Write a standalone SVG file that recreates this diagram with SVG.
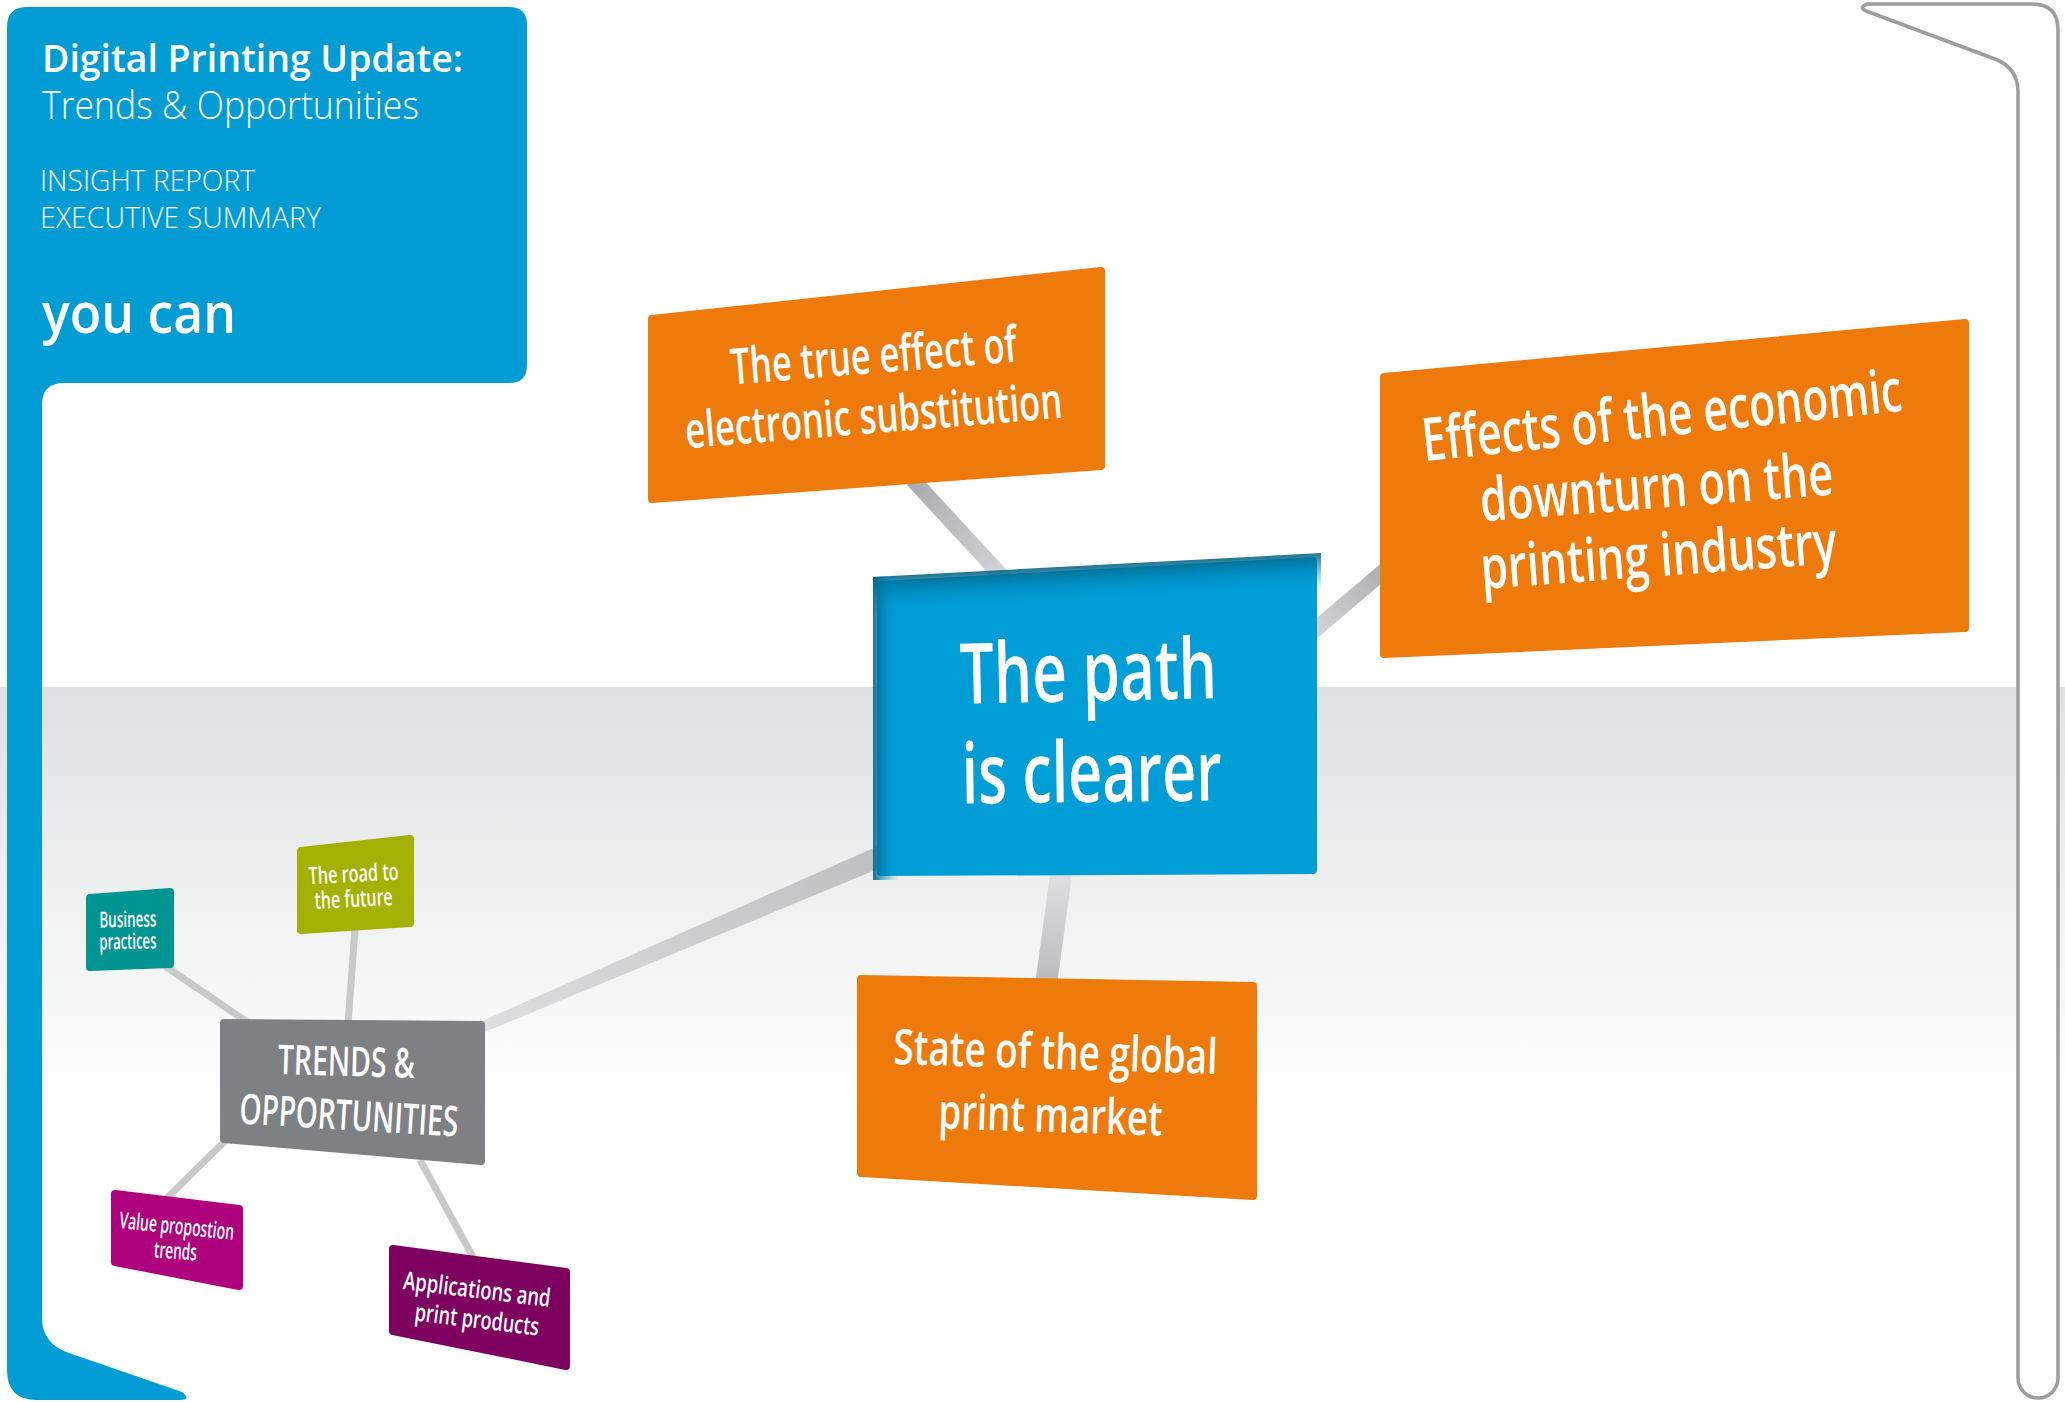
<svg xmlns="http://www.w3.org/2000/svg" width="2065" height="1402" viewBox="0 0 2065 1402">
<defs>
<linearGradient id="band" x1="0" y1="0" x2="0" y2="1">
<stop offset="0" stop-color="#dfe0e2"/>
<stop offset="0.45" stop-color="#eeefef"/>
<stop offset="1" stop-color="#ffffff"/>
</linearGradient>
<linearGradient id="g1" x1="0" y1="0" x2="1" y2="1">
<stop offset="0" stop-color="#a7a9ac"/>
<stop offset="1" stop-color="#d8d9da"/>
</linearGradient>
<linearGradient id="g2" x1="0" y1="1" x2="1" y2="0">
<stop offset="0" stop-color="#d8d9da"/>
<stop offset="1" stop-color="#a7a9ac"/>
</linearGradient>
<linearGradient id="g3" x1="0" y1="0" x2="0" y2="1">
<stop offset="0" stop-color="#e3e4e5"/>
<stop offset="1" stop-color="#b9babc"/>
</linearGradient>
<linearGradient id="g4" x1="1" y1="0" x2="0" y2="1">
<stop offset="0" stop-color="#bdbec0"/>
<stop offset="1" stop-color="#dedfe0"/>
</linearGradient>
<linearGradient id="topShade" x1="0" y1="0" x2="0" y2="1">
<stop offset="0" stop-color="#005a78" stop-opacity="1"/>
<stop offset="1" stop-color="#009cd6" stop-opacity="0"/>
</linearGradient>
<linearGradient id="leftShade" x1="0" y1="0" x2="1" y2="0">
<stop offset="0" stop-color="#00628a" stop-opacity="0.9"/>
<stop offset="1" stop-color="#009cd6" stop-opacity="0"/>
</linearGradient>
<clipPath id="centerClip"><polygon points="873,577 1321,553 1321,878 873,880"/></clipPath>
</defs>
<style>
.box{stroke-linejoin:round;stroke-width:8}
.orange{fill:#ed7a0a;stroke:#ed7a0a}
.blue{fill:#019dd7;stroke:#019dd7}
.teal{fill:#009593;stroke:#009593}
.green{fill:#a3b200;stroke:#a3b200}
.gray{fill:#7f8083;stroke:#7f8083}
.magenta{fill:#ae007d;stroke:#ae007d}
.purple{fill:#7d005f;stroke:#7d005f}
.t{font-family:"Open Sans","Noto Sans","Liberation Sans",sans-serif;fill:#ffffff;font-weight:600;text-anchor:middle}
.h{font-family:"Open Sans","Noto Sans","Liberation Sans",sans-serif;fill:#ffffff}
.thin{stroke:#c8c9cb;stroke-width:7;stroke-linecap:butt}
</style>

<rect x="0" y="0" width="2065" height="1402" fill="#ffffff"/>
<rect x="0" y="687" width="2065" height="430" fill="url(#band)"/>

<g id="right-frame">
<path d="M 1868,4 H 2032 Q 2058,4 2058,30 V 1378 A 20,20 0 0 1 2018,1378 V 92 Q 2018,68 1995,59 L 1866,11 Q 1858,7 1868,4 Z" fill="#ffffff" stroke="#9d9d9d" stroke-width="3.5" stroke-linejoin="round"/>
</g>

<g id="connectors">
<polygon points="919,475 1016,580 1004,590 907,485" fill="url(#g1)"/>
<polygon points="1315,640 1395,572 1385,560 1305,628" fill="url(#g2)"/>
<polygon points="1052,860 1074,860 1057,985 1035,985" fill="url(#g3)"/>
<polygon points="885,843 885,866 480,1034 480,1022" fill="url(#g4)"/>
<line class="thin" x1="165" y1="966" x2="250" y2="1024"/>
<line class="thin" x1="355" y1="929" x2="348" y2="1024"/>
<line class="thin" x1="226" y1="1140" x2="165" y2="1200"/>
<line class="thin" x1="420" y1="1160" x2="473" y2="1257"/>
</g>

<g id="node-electronic">
<polygon class="box orange" points="652,319 1101,271 1101,466 652,499"/>
<text class="t" font-size="50" transform="rotate(-4.6 875 373)" x="875" y="373" textLength="287" lengthAdjust="spacingAndGlyphs">The true effect of</text>
<text class="t" font-size="50" transform="rotate(-4.6 875 433)" x="875" y="433" textLength="378" lengthAdjust="spacingAndGlyphs">electronic substitution</text>
</g>

<g id="node-economic">
<polygon class="box orange" points="1384,377 1965,323 1965,628 1384,654"/>
<text class="t" font-size="60" transform="rotate(-6 1664 436)" x="1664" y="436" textLength="482" lengthAdjust="spacingAndGlyphs">Effects of the economic</text>
<text class="t" font-size="60" transform="rotate(-4.4 1658 508)" x="1658" y="508" textLength="354" lengthAdjust="spacingAndGlyphs">downturn on the</text>
<text class="t" font-size="60" transform="rotate(-4.2 1660 576)" x="1660" y="576" textLength="357" lengthAdjust="spacingAndGlyphs">printing industry</text>
</g>

<g id="node-center">
<polygon class="box blue" points="881,585 1313,561 1313,870 881,872"/>
<g clip-path="url(#centerClip)">
<g transform="rotate(-3.1 877 581)"><rect x="860" y="572" width="480" height="42" fill="url(#topShade)"/></g>
<rect x="873" y="550" width="26" height="335" fill="url(#leftShade)"/>
</g>
<text class="t" font-size="84" transform="rotate(-1.2 1089 701)" x="1089" y="701" textLength="257" lengthAdjust="spacingAndGlyphs">The path</text>
<text class="t" font-size="84" transform="rotate(-0.7 1092 802)" x="1092" y="802" textLength="260" lengthAdjust="spacingAndGlyphs">is clearer</text>
</g>

<g id="node-global">
<polygon class="box orange" points="861,979 1253,986 1253,1196 861,1173"/>
<text class="t" font-size="49" transform="rotate(1.8 1055 1069)" x="1055" y="1069" textLength="324" lengthAdjust="spacingAndGlyphs">State of the global</text>
<text class="t" font-size="49" transform="rotate(1.8 1050 1132)" x="1050" y="1132" textLength="224" lengthAdjust="spacingAndGlyphs">print market</text>
</g>

<g id="node-trends">
<polygon class="box gray" points="224,1023 481,1025 481,1161 224,1139"/>
<text class="t" font-size="41" font-weight="400" transform="rotate(1.6 346 1076)" x="346" y="1076" textLength="137" lengthAdjust="spacingAndGlyphs">TRENDS &amp;</text>
<text class="t" font-size="42" font-weight="400" transform="rotate(3.4 348 1130)" x="348" y="1130" textLength="219" lengthAdjust="spacingAndGlyphs">OPPORTUNITIES</text>
</g>

<g id="node-business">
<polygon class="box teal" points="90,898 170,892 170,964 90,967"/>
<text class="t" font-size="22" transform="rotate(-1 128 927)" x="128" y="927" textLength="57" lengthAdjust="spacingAndGlyphs">Business</text>
<text class="t" font-size="22" transform="rotate(-1 128 949)" x="128" y="949" textLength="57" lengthAdjust="spacingAndGlyphs">practices</text>
</g>

<g id="node-road">
<polygon class="box green" points="301,851 410,839 410,923 301,930"/>
<text class="t" font-size="24" transform="rotate(-3 354 882)" x="354" y="882" textLength="90" lengthAdjust="spacingAndGlyphs">The road to</text>
<text class="t" font-size="24" transform="rotate(-3 354 907)" x="354" y="907" textLength="78" lengthAdjust="spacingAndGlyphs">the future</text>
</g>

<g id="node-value">
<polygon class="box magenta" points="115,1194 239,1209 239,1286 115,1262"/>
<text class="t" font-size="23" transform="rotate(6 176 1234)" x="176" y="1234" textLength="115" lengthAdjust="spacingAndGlyphs">Value propostion</text>
<text class="t" font-size="23" transform="rotate(4 175 1259)" x="175" y="1259" textLength="43" lengthAdjust="spacingAndGlyphs">trends</text>
</g>

<g id="node-applications">
<polygon class="box purple" points="393,1249 566,1272 566,1366 393,1331"/>
<text class="t" font-size="25" transform="rotate(7 476 1298)" x="476" y="1298" textLength="148" lengthAdjust="spacingAndGlyphs">Applications and</text>
<text class="t" font-size="25" transform="rotate(7 476 1328)" x="476" y="1328" textLength="125" lengthAdjust="spacingAndGlyphs">print products</text>
</g>

<g id="left-frame">
<path d="M 27,7 H 509 Q 527,7 527,25 V 365 Q 527,383 509,383 H 64 Q 42,383 42,405 V 1318 Q 42,1342 66,1352 L 182,1392 Q 192,1400 180,1400 H 37 Q 7,1400 7,1370 V 27 Q 7,7 27,7 Z" fill="#029cd5"/>
<text class="h" x="42" y="72" font-size="38" font-weight="600" textLength="421" lengthAdjust="spacingAndGlyphs">Digital Printing Update:</text>
<text class="h" x="42" y="119" font-size="38" font-weight="300" textLength="377" lengthAdjust="spacingAndGlyphs">Trends &amp; Opportunities</text>
<text class="h" x="40" y="191" font-size="30" font-weight="300" textLength="215" lengthAdjust="spacingAndGlyphs">INSIGHT REPORT</text>
<text class="h" x="40" y="228" font-size="30" font-weight="300" textLength="281" lengthAdjust="spacingAndGlyphs">EXECUTIVE SUMMARY</text>
<text class="h" x="42" y="333" font-size="56" font-weight="600" textLength="194" lengthAdjust="spacingAndGlyphs">you can</text>
</g>
</svg>
